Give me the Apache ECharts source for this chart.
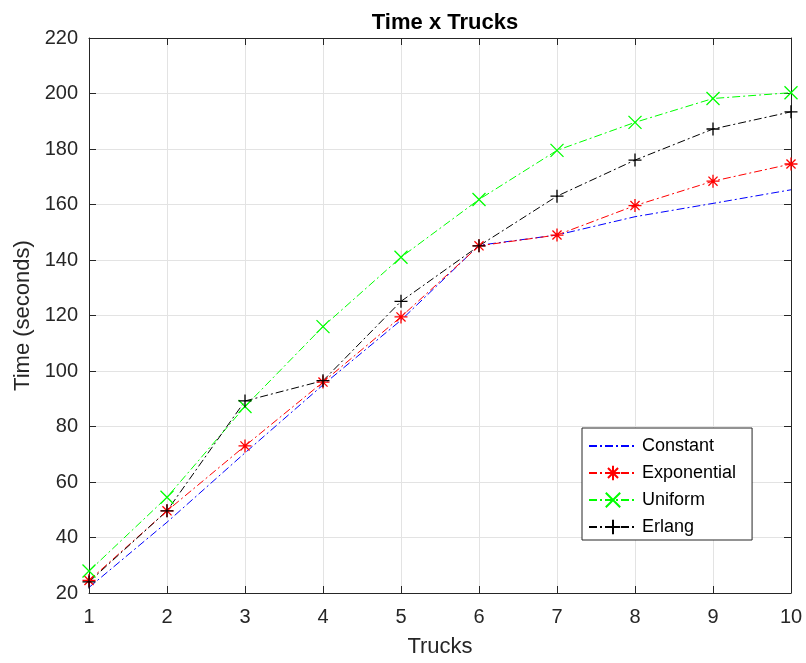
<!DOCTYPE html>
<html>
<head>
<meta charset="utf-8">
<script src="https://cdn.jsdelivr.net/npm/echarts@6/dist/echarts.min.js"></script>
<style>html,body{margin:0;padding:0;background:#fff}#c{width:806px;height:663px}</style>
</head>
<body>
<div id="c"></div>
<script>
const trucks = [1, 2, 3, 4, 5, 6, 7, 8, 9, 10];
const constantT = [22, 45.5, 70.5, 95, 118.3, 145.3, 149, 155.6, 160.4, 165.3];
const exponentialT = [24.5, 49.6, 73, 96, 119.5, 145.1, 149, 159.6, 168.4, 174.6];
const uniformT = [27.9, 54.5, 87.2, 116, 141, 161.8, 179.5, 189.6, 198.2, 200.3];
const erlangT = [24, 49.6, 89.2, 96.5, 125.1, 145.1, 163, 176, 187.2, 193.4];
const yTicks = [20, 40, 60, 80, 100, 120, 140, 160, 180, 200, 220];

const FONT = "'Liberation Sans', Arial, Helvetica, sans-serif";
const AX = '#262626';
const DASH = [8, 3, 2, 3];
const PLUS = 'path://M5,0L5,10M0,5L10,5';
const CROSS = 'path://M0,0L10,10M10,0L0,10';
const STAR = 'path://M5,0L5,10M0,5L10,5M1.5,1.5L8.5,8.5M8.5,1.5L1.5,8.5';

function pts(arr){ return trucks.map((x,i)=>[x, arr[i]]); }
function mk(name, data, color, symbol){
  const has = !!symbol;
  return {
    name, type:'line', data: pts(data),
    symbol: symbol || PLUS, symbolSize: 13, symbolKeepAspect: true,
    showSymbol: has,
    lineStyle:{color, width:1, type:DASH},
    itemStyle:{color:'rgba(0,0,0,0)', borderColor: has ? color : 'rgba(0,0,0,0)', borderWidth:1.3},
    emphasis:{disabled:true},
    animation:false, z: 3
  };
}
const chart = echarts.init(document.getElementById('c'), null, {renderer:'canvas'});
const baseAxis = {
  axisLine:{show:true, onZero:false, lineStyle:{color:AX, width:1}},
  axisTick:{show:true, inside:true, length:7, lineStyle:{color:AX}},
};
chart.setOption({
  backgroundColor:'#fff',
  animation:false,
  title:{text:'Time x Trucks', left:440, top:7, textAlign:'center',
    textStyle:{fontFamily:FONT, fontSize:22, fontWeight:'bold', color:'#000'}},
  grid:{left:89, right:15, top:38, bottom:68},
  legend:{
    orient:'vertical', left:582, top:428,
    padding:[9,16,4,6], itemWidth:48, itemHeight:18, itemGap:9,
    backgroundColor:'#fff', borderColor:AX, borderWidth:1, borderRadius:0,
    textStyle:{fontFamily:FONT, fontSize:18, color:'#000'},
    data:['Constant','Exponential','Uniform','Erlang']
  },
  xAxis:[
    Object.assign({}, baseAxis, {type:'value', min:1, max:10, interval:1,
      name:'Trucks', nameLocation:'middle', nameGap:43,
      nameTextStyle:{fontFamily:FONT, fontSize:22, color:AX},
      axisLabel:{fontFamily:FONT, fontSize:20, color:AX, margin:14},
      splitLine:{show:true, lineStyle:{color:'#e3e3e3', width:1}}}),
    Object.assign({}, baseAxis, {type:'value', min:1, max:10, interval:1, position:'top',
      axisLabel:{show:false}, splitLine:{show:false}})
  ],
  yAxis:[
    Object.assign({}, baseAxis, {type:'value', min:yTicks[0], max:yTicks[yTicks.length-1], interval:20,
      name:'Time (seconds)', nameLocation:'middle', nameGap:54,
      nameTextStyle:{fontFamily:FONT, fontSize:22, color:AX},
      axisLabel:{fontFamily:FONT, fontSize:20, color:AX, margin:11},
      splitLine:{show:true, lineStyle:{color:'#e3e3e3', width:1}}}),
    Object.assign({}, baseAxis, {type:'value', min:yTicks[0], max:yTicks[yTicks.length-1], interval:20, position:'right',
      axisLabel:{show:false}, splitLine:{show:false}})
  ],
  series:[
    mk('Constant', constantT, '#0000ff', null),
    mk('Exponential', exponentialT, '#ff0000', STAR),
    mk('Uniform', uniformT, '#00ff00', CROSS),
    mk('Erlang', erlangT, '#000000', PLUS)
  ]
});
</script>
</body>
</html>
